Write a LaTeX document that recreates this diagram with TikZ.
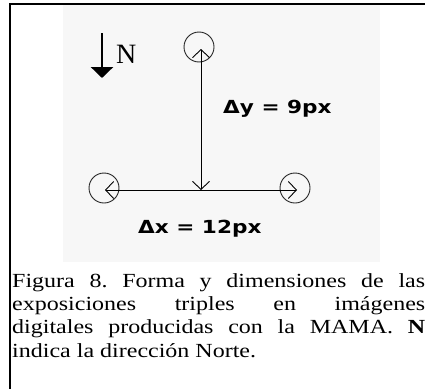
\documentclass[tikz,border=0pt]{standalone}
\usepackage{fontspec}
\setmainfont{Liberation Serif}
\newfontfamily\lblfont[FakeStretch=1.2]{DejaVu Sans}
\newfontfamily\capfont[FakeStretch=1.2]{Liberation Serif}
\usetikzlibrary{arrows.meta}
\frenchspacing
\begin{document}
\begin{tikzpicture}[x=1pt,y=-1pt,
  ring/.style={circle, draw=black!85, line width=0.9pt, minimum size=30pt, inner sep=0pt},
  barb/.style={line width=0.9pt, {Straight Barb[length=8pt,width=17pt]}-{Straight Barb[length=8pt,width=17pt]}},
  lbl/.style={inner sep=0pt, anchor=base west, font=\lblfont\bfseries\fontsize{18}{20}\selectfont},
  capline/.style={inner sep=0pt, anchor=base west, font=\capfont\fontsize{20}{23}\selectfont\frenchspacing},
  frameline/.style={line width=2pt, line cap=rect}]
\useasboundingbox (0,0) rectangle (425,388);
% faint image background
\fill[black!3] (63,5) rectangle (380,262);
% frame
\draw[frameline] (425,4) -- (10,4) -- (10,390);
% north arrow
\coordinate (Ntop) at (102,33);
\coordinate (Ntip) at (102,78);
\draw[line width=2.7pt, -{Triangle[length=11pt,width=22pt]}] (Ntop) -- (Ntip);
\node[inner sep=0pt, anchor=base west, font=\fontsize{28}{30}\selectfont] (N) at (116,63) {N};
% circles
\node[ring] (T) at (199,47) {};
\node[ring] (L) at (104,188) {};
\node[ring] (R) at (295,188) {};
% arrow tips and center
\coordinate (C) at (201,190);
\coordinate (tipT) at (201,49);
\coordinate (tipL) at (105,190);
\coordinate (tipR) at (297,190);
\draw[barb] (tipT) -- (C);
\draw[barb] (tipL) -- (tipR);
% labels
\node[lbl] (dy) at (223,113) {Δy = 9px};
\node[lbl] (dx) at (138,233) {Δx = 12px};
% caption, justified line by line
\node[capline] (cap1) at (12,287) {\makebox[413pt][s]{Figura 8. Forma y dimensiones de las}};
\node[capline] (cap2) at (12,310.3) {\makebox[413pt][s]{exposiciones triples en imágenes}};
\node[capline] (cap3) at (12,333.6) {\makebox[413pt][s]{digitales producidas con la MAMA. \textbf{N}}};
\node[capline] (cap4) at (12,357) {indica la dirección Norte.};
\end{tikzpicture}
\end{document}
